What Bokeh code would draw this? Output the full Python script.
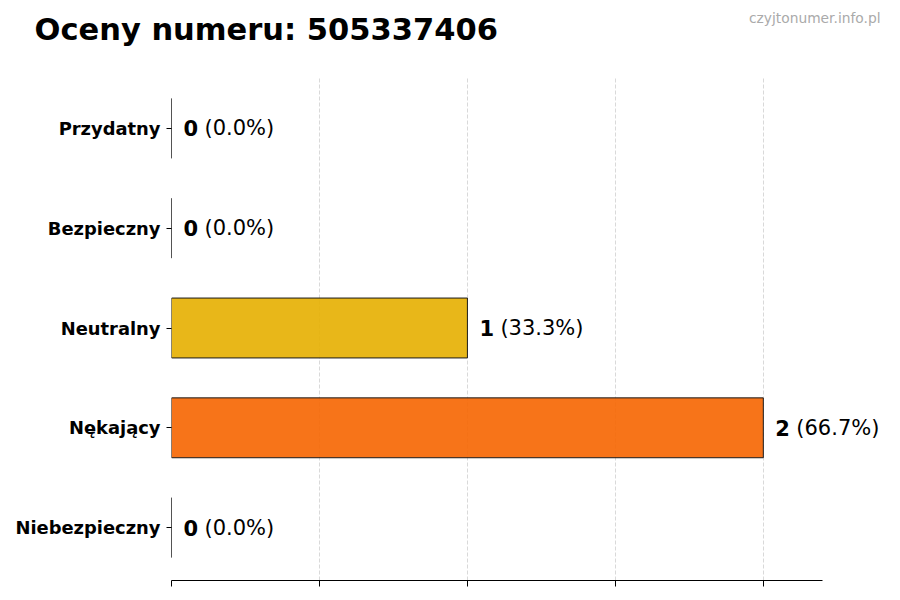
from bokeh.plotting import figure
from bokeh.models import ColumnDataSource, Label, LabelSet, FixedTicker, Range1d
from bokeh.layouts import column, row
from bokeh.core.properties import value
from bokeh.embed import file_html
from bokeh.resources import INLINE

# ---- data ----
categories = ["Niebezpieczny", "Nękający", "Neutralny", "Bezpieczny", "Przydatny"]
counts = [0, 2, 1, 0, 0]
percents = ["(0.0%)", "(66.7%)", "(33.3%)", "(0.0%)", "(0.0%)"]
colors = ["#D62728", "#F66500", "#E6AF00", "#2CA02C", "#1F77B4"]
x_ticks = [0, 0.5, 1, 1.5, 2]
title_text = "Oceny numeru: 505337406"
watermark = "czyjtonumer.info.pl"

W, H_HEAD, H_MAIN = 900, 76, 524
FRAME_LEFT, AXIS_W, X_MAX = 171, 651, 2.2
FRAME_W = W - FRAME_LEFT

# ---- header (title + watermark) ----
head = figure(width=W, height=H_HEAD,
              output_backend="svg", toolbar_location=None,
              x_range=Range1d(0, W), y_range=Range1d(H_HEAD, 0),
              x_axis_type=None, y_axis_type=None,
              min_border_left=0, min_border_right=0, min_border_top=0,
              min_border_bottom=0)
head.outline_line_color = None
head.xgrid.visible = False
head.ygrid.visible = False
head.add_layout(Label(x=34, y=29, text=title_text, text_font="DejaVu Sans",
                      text_font_style="bold", text_font_size="30.5px",
                      text_color="black", text_baseline="alphabetic",
                      text_align="left"))
head.add_layout(Label(x=880, y=17.5, text=watermark, text_font="DejaVu Sans",
                      text_font_size="13.8px", text_color="#aaaaaa",
                      text_align="right", text_baseline="alphabetic"))

# ---- main chart ----
ypos = list(range(len(categories)))
src = ColumnDataSource(dict(
    y=ypos, right=counts, color=colors,
    num=[str(c) for c in counts], pct=percents,
))

p = figure(width=W, height=H_MAIN, frame_width=FRAME_W, frame_height=504,
           output_backend="svg", toolbar_location=None,
           x_range=Range1d(0, X_MAX * FRAME_W / AXIS_W),
           y_range=Range1d(-0.53, 4.52),
           min_border_left=FRAME_LEFT, min_border_top=0, min_border_right=0,
           min_border_bottom=20)
p.outline_line_color = None
p.background_fill_color = "white"

p.hbar(y="y", left=0, right="right", height=0.6, fill_color="color",
       fill_alpha=0.9, line_color="#1a1a1a", line_width=1, source=src)

DJ = value("DejaVu Sans")
p.add_layout(LabelSet(x="right", y="y", text="num", source=src, x_offset=12,
                      text_font=DJ, text_font_style="bold",
                      text_font_size="21px", text_baseline="middle",
                      text_align="left", text_color="black"))
p.add_layout(LabelSet(x="right", y="y", text="pct", source=src, x_offset=33,
                      text_font=DJ, text_font_size="21px",
                      text_baseline="middle", text_align="left",
                      text_color="black"))

# axes
p.xaxis.ticker = FixedTicker(ticks=x_ticks)
p.xaxis.bounds = (0, X_MAX)
p.xaxis.major_label_text_font_size = "0px"
p.xaxis.axis_line_color = "black"
p.xaxis.major_tick_line_color = "black"
p.xaxis.major_tick_out = 6
p.xaxis.major_tick_in = 0
p.xaxis.minor_tick_line_color = None

p.yaxis.ticker = FixedTicker(ticks=ypos)
p.yaxis.major_label_overrides = {i: c for i, c in enumerate(categories)}
p.yaxis.axis_line_color = None
p.yaxis.major_tick_line_color = "black"
p.yaxis.major_tick_out = 5
p.yaxis.major_tick_in = 0
p.yaxis.minor_tick_line_color = None
p.yaxis.major_label_text_font = "DejaVu Sans"
p.yaxis.major_label_text_font_style = "bold"
p.yaxis.major_label_text_font_size = "17.9px"
p.yaxis.major_label_text_color = "black"
p.yaxis.major_label_standoff = 6

p.ygrid.grid_line_color = None
p.xgrid.grid_line_color = "#bbbbbb"
p.xgrid.grid_line_alpha = 0.7
p.xgrid.grid_line_dash = "4 2"
p.xgrid.grid_line_width = 0.8

layout = column(row(head, spacing=0), p, spacing=0)
open("out.html", "w").write(file_html(layout, INLINE))
